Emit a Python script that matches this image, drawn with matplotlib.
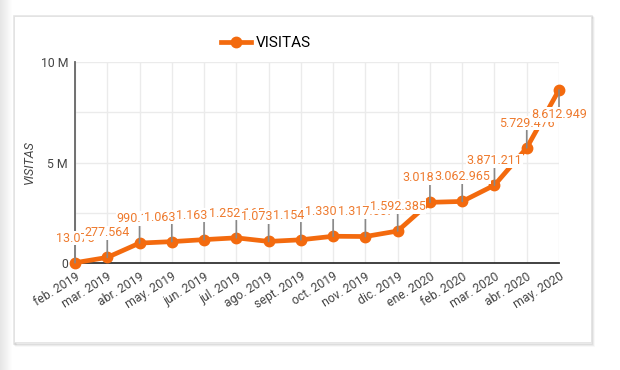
import numpy as np
import matplotlib
matplotlib.use('Agg')
import matplotlib.pyplot as plt
from matplotlib.patches import Rectangle
from matplotlib.lines import Line2D

plt.rcParams['font.family'] = ['Roboto', 'DejaVu Sans']

months = ['feb. 2019', 'mar. 2019', 'abr. 2019', 'may. 2019', 'jun. 2019',
          'jul. 2019', 'ago. 2019', 'sept. 2019', 'oct. 2019', 'nov. 2019',
          'dic. 2019', 'ene. 2020', 'feb. 2020', 'mar. 2020', 'abr. 2020',
          'may. 2020']
visitas = [13075, 277564, 990147, 1063128, 1163142, 1252165, 1073154,
           1154176, 1330183, 1317557, 1592385, 3018420, 3062965, 3871211,
           5729476, 8612949]
yticks = [0, 5e6, 10e6]
ytick_labels = ['0', '5 M', '10 M']

orange = '#f36a0e'
label_orange = '#ee7a2e'
W, H = 620, 370

fig = plt.figure(figsize=(6.2, 3.7), dpi=100)
fig.patch.set_facecolor('white')

# page edge on the left and card shadow
for i in range(12):
    g = 0.90 + 0.1 * i / 12
    fig.patches.append(Rectangle((i / W, 0), 1 / W, 1, transform=fig.transFigure,
                                 facecolor=(g, g, g), edgecolor='none', zorder=0))
for k, a in enumerate([0.10, 0.06, 0.03]):
    fig.patches.append(Rectangle(((14 + k) / W, (370 - 344 - k) / H), (578) / W, (328) / H,
                                 transform=fig.transFigure, facecolor='none',
                                 edgecolor=(0, 0, 0, a), lw=1.2, zorder=1))
fig.patches.append(Rectangle((14 / W, (370 - 342) / H), 577 / W, 326 / H,
                             transform=fig.transFigure, facecolor='white',
                             edgecolor='#e2e2e2', lw=0.6, zorder=2))

ax = fig.add_axes([75 / W, (370 - 263) / H, (559 - 75) / W, (263 - 62) / H])
ax.set_zorder(3)
ax.patch.set_alpha(0)

x = np.arange(len(months))
ax.plot(x, visitas, color=orange, lw=3.4, marker='o', markersize=7.5,
        clip_on=False, zorder=4, solid_capstyle='round')

ax.set_xlim(0, len(months) - 1)
ax.set_ylim(0, 10e6)
ax.set_xticks(x)
ax.set_xticklabels(months, rotation=32, ha='right', rotation_mode='anchor',
                   fontsize=8.8, color='#444444')
ax.set_yticks(yticks)
ax.set_yticklabels(ytick_labels, fontsize=8.8, color='#444444')
ax.set_yticks([2.5e6, 7.5e6], minor=True)
ax.tick_params(axis='both', length=0, pad=5)
ax.tick_params(axis='y', which='minor', length=0)
ax.grid(True, which='both', color='#ebebeb', lw=1)
ax.set_axisbelow(True)
for s in ['top', 'right']:
    ax.spines[s].set_visible(False)
ax.spines['left'].set_color('#666666')
ax.spines['left'].set_linewidth(1.3)
ax.spines['bottom'].set_color('#333333')
ax.spines['bottom'].set_linewidth(1.3)
ax.set_ylabel('VISITAS', fontsize=9, color='#444444', style='italic', labelpad=3)

for i, v in enumerate(visitas):
    txt = f'{v:,}'.replace(',', '.')
    last = i == len(visitas) - 1
    off = -13 if last else 13
    ax.annotate(txt, (i, v), xytext=(0, off), textcoords='offset points',
                ha='center', va='top' if last else 'bottom', fontsize=9,
                color=label_orange, zorder=5 + i, annotation_clip=False,
                bbox=dict(boxstyle='square,pad=0.05', fc='white', ec='none'),
                arrowprops=dict(arrowstyle='-', color='#888888', lw=1.2,
                                shrinkA=0, shrinkB=0))

handle = Line2D([], [], color=orange, lw=3.4, marker='o', markersize=7.5)
fig.legend([handle], ['VISITAS'], loc='center', bbox_to_anchor=(266 / W, 1 - 43 / H),
           frameon=False, fontsize=11, handlelength=2.0, handletextpad=0.3)

fig.savefig('out.png', dpi=100)
